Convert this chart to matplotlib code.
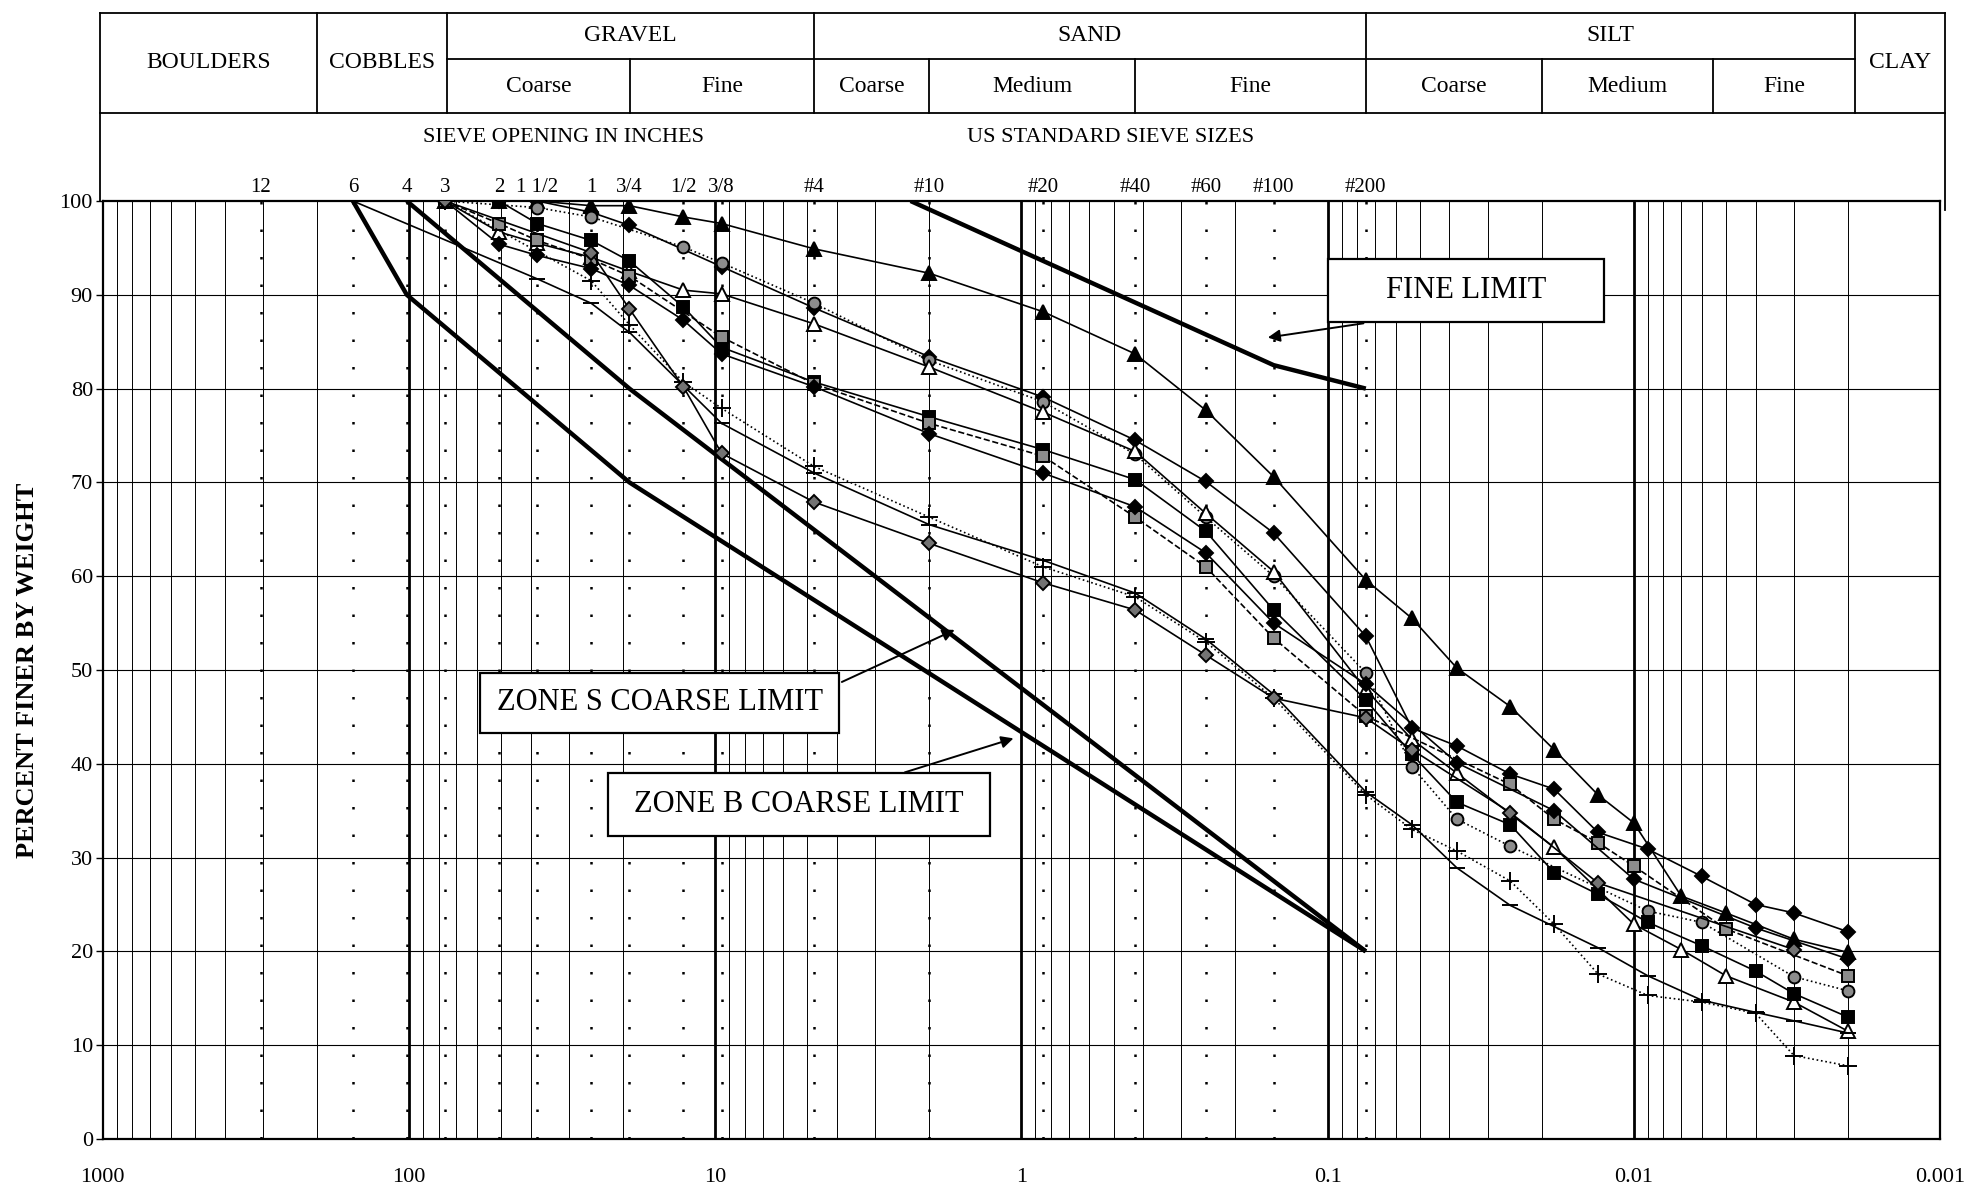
import numpy as np
import matplotlib.pyplot as plt

plt.rcParams['font.family'] = ['Liberation Serif', 'DejaVu Serif']

# sieve labels along the top (size in mm)
sieve_mm = [304.8, 152.4, 101.6, 76.2, 50.8, 38.1, 25.4, 19.05, 12.7, 9.525,
            4.75, 2.0, 0.85, 0.425, 0.25, 0.15, 0.075]
sieve_lbl = ['12', '6', '4', '3', '2', '1 1/2', '1', '3/4', '1/2', '3/8',
             '#4', '#10', '#20', '#40', '#60', '#100', '#200']

# limit curves
fine_d = [2.3, 0.15, 0.075]
fine_p = [100, 82.5, 80]
zs_d = [101.6, 19.05, 0.075]
zs_p = [100, 80, 20]
zb_d = [152.4, 101.6, 19.05, 0.075]
zb_p = [100, 90, 70, 20]

# test samples (grain size mm, percent finer)
s1_d = [76.2, 50.8, 38.1, 25.4, 19.05, 12.7, 9.525, 4.75, 2.0, 0.85, 0.425, 0.25, 0.15, 0.075,
        0.053, 0.0378, 0.0253, 0.0182, 0.0131, 0.01, 0.007, 0.005, 0.003, 0.002]
s1_p = [100, 100, 100, 99.5, 99.5, 98.3, 97.6, 94.9, 92.3, 88.2, 83.7, 77.7, 70.6, 59.6,
        55.5, 50.2, 46.1, 41.5, 36.7, 33.7, 25.9, 24.1, 21.3, 19.9]

s2_d = [76.2, 50.8, 38.1, 25.4, 19.05, 9.525, 4.75, 2.0, 0.85, 0.425, 0.25, 0.15, 0.075,
        0.053, 0.0378, 0.0253, 0.0182, 0.0131, 0.009, 0.006, 0.004, 0.003, 0.002]
s2_p = [100, 100, 100, 98.8, 97.4, 93.0, 88.6, 83.4, 79.1, 74.5, 70.1, 64.6, 53.6,
        43.8, 41.9, 38.9, 37.3, 32.7, 30.9, 28.0, 25.0, 24.1, 22.1]

s3_d = [76.2, 38.1, 25.4, 12.7, 9.525, 4.75, 2.0, 0.85, 0.425, 0.25, 0.15, 0.075,
        0.053, 0.0378, 0.0253, 0.009, 0.006, 0.003, 0.002]
s3_p = [100, 99.3, 98.3, 95.1, 93.4, 89.1, 83.0, 78.6, 73.0, 66.3, 60.0, 49.7,
        39.7, 34.1, 31.2, 24.3, 23.1, 17.3, 15.8]

s4_d = [76.2, 50.8, 38.1, 25.4, 19.05, 12.7, 9.525, 4.75, 2.0, 0.85, 0.425, 0.25, 0.15, 0.075,
        0.053, 0.0378, 0.0182, 0.01, 0.007, 0.005, 0.003, 0.002]
s4_p = [100, 96.7, 95.5, 94.0, 92.5, 90.5, 90.1, 86.9, 82.3, 77.5, 73.3, 66.7, 60.5, 47.9,
        42.6, 39.0, 31.1, 22.9, 20.2, 17.4, 14.6, 11.5]

s5_d = [76.2, 50.8, 38.1, 25.4, 19.05, 12.7, 9.525, 4.75, 2.0, 0.85, 0.425, 0.25, 0.15, 0.075,
        0.053, 0.0378, 0.0253, 0.0182, 0.0131, 0.009, 0.006, 0.004, 0.003, 0.002]
s5_p = [100, 100, 97.6, 95.8, 93.6, 88.7, 84.4, 80.7, 77.0, 73.5, 70.3, 64.8, 56.4, 46.8,
        41.0, 35.9, 33.5, 28.4, 26.1, 23.1, 20.6, 17.9, 15.5, 13.0]

s6_d = [76.2, 50.8, 38.1, 25.4, 19.05, 9.525, 4.75, 2.0, 0.85, 0.425, 0.25, 0.15, 0.075,
        0.0253, 0.0182, 0.0131, 0.01, 0.005, 0.002]
s6_p = [100, 97.6, 95.8, 93.8, 92.0, 85.5, 80.5, 76.3, 72.8, 66.3, 61.0, 53.4, 45.1,
        37.8, 34.1, 31.6, 29.1, 22.4, 17.4]

s7_d = [76.2, 50.8, 38.1, 25.4, 19.05, 12.7, 9.525, 4.75, 2.0, 0.85, 0.425, 0.25, 0.15, 0.075,
        0.0378, 0.0182, 0.01, 0.004, 0.002]
s7_p = [100, 95.4, 94.2, 92.8, 91.0, 87.3, 83.7, 80.2, 75.2, 71.0, 67.4, 62.5, 55.0, 48.5,
        40.1, 35.0, 27.7, 22.5, 19.2]

s8_d = [76.2, 25.4, 19.05, 12.7, 9.525, 4.75, 2.0, 0.85, 0.425, 0.25, 0.15, 0.075,
        0.053, 0.0378, 0.0253, 0.0182, 0.0131, 0.009, 0.006, 0.004, 0.003, 0.002]
s8_p = [100, 91.5, 86.8, 80.7, 77.9, 71.7, 66.3, 61.0, 57.8, 53.0, 47.0, 36.7,
        33.0, 30.7, 27.5, 22.9, 17.6, 15.3, 14.6, 13.4, 8.9, 7.8]

s9_d = [152.4, 38.1, 25.4, 19.05, 9.525, 4.75, 2.0, 0.85, 0.425, 0.25, 0.15, 0.075,
        0.053, 0.0378, 0.0253, 0.0131, 0.009, 0.006, 0.004, 0.003, 0.002]
s9_p = [100, 91.7, 89.1, 86.0, 76.3, 71.0, 65.5, 61.7, 58.2, 53.3, 47.4, 37.0,
        33.5, 28.9, 24.9, 20.4, 17.4, 14.8, 13.5, 12.6, 11.3]

s10_d = [76.2, 25.4, 19.05, 12.7, 9.525, 4.75, 2.0, 0.85, 0.425, 0.25, 0.15, 0.075,
         0.053, 0.0253, 0.0131, 0.003]
s10_p = [100, 94.5, 88.5, 80.2, 73.1, 67.9, 63.5, 59.3, 56.4, 51.6, 47.0, 44.9,
         41.5, 34.8, 27.3, 20.2]

# header classification
hdr_edges = [1020, 200, 75, 4.75, 0.075, 0.0019, 0.00096]
hdr_main = ['BOULDERS', 'COBBLES', 'GRAVEL', 'SAND', 'SILT', 'CLAY']
hdr_sub_edges = [[75, 19, 4.75], [4.75, 2.0, 0.425, 0.075], [0.075, 0.02, 0.0055, 0.0019]]
hdr_sub = [['Coarse', 'Fine'], ['Coarse', 'Medium', 'Fine'], ['Coarse', 'Medium', 'Fine']]

W, H = 1965, 1192
fig = plt.figure(figsize=(W / 100, H / 100), dpi=100)
ax_l, ax_r, ax_t, ax_b = 102.7, 1940, 201, 1139
ax = fig.add_axes([ax_l / W, 1 - ax_b / H, (ax_r - ax_l) / W, (ax_b - ax_t) / H])
ax.set_xscale('log')
ax.set_xlim(1000, 0.001)
ax.set_ylim(0, 100)

# grid
for n in range(-3, 3):
    for k in range(2, 10):
        ax.axvline(k * 10.0 ** n, color='k', lw=0.7, zorder=1)
for n in [-2, -1, 0, 1, 2]:
    ax.axvline(10.0 ** n, color='k', lw=2.0, zorder=1)
for y in range(10, 100, 10):
    ax.axhline(y, color='k', lw=0.8, zorder=1)
for d in sieve_mm:
    ax.axvline(d, color='k', lw=1.8, ls=(0, (1, 10)), zorder=1)

# limit lines
for d, p in [(fine_d, fine_p), (zs_d, zs_p), (zb_d, zb_p)]:
    ax.plot(d, p, color='k', lw=3.2, zorder=2, solid_capstyle='butt')

series = [
    (s1_d, s1_p, '^', 'k', '-', 10),
    (s2_d, s2_p, 'D', 'k', '-', 7.5),
    (s3_d, s3_p, 'o', '0.55', ':', 8.5),
    (s4_d, s4_p, '^', 'white', '-', 10),
    (s5_d, s5_p, 's', 'k', '-', 8.5),
    (s6_d, s6_p, 's', '0.55', '--', 8.5),
    (s7_d, s7_p, 'D', 'k', '-', 7.5),
    (s8_d, s8_p, '+', 'k', ':', 13),
    (s9_d, s9_p, '_', 'k', '-', 11),
    (s10_d, s10_p, 'D', '0.45', '-', 7.5),
]
for d, p, m, fc, ls, ms in series:
    ax.plot(d, p, color='k', lw=1.2, ls=ls, marker=m, mfc=fc, mec='k', mew=1.4,
            ms=ms, zorder=3)

# ticks
ax.set_xticks([1000, 100, 10, 1, 0.1, 0.01, 0.001])
ax.set_xticklabels(['1000', '100', '10', '1', '0.1', '0.01', '0.001'])
ax.xaxis.set_minor_locator(plt.NullLocator())
ax.set_yticks(range(0, 101, 10))
ax.tick_params(axis='x', length=0, pad=21, labelsize=16)
ax.tick_params(axis='y', length=5, width=1, pad=2, labelsize=16)
for s in ax.spines.values():
    s.set_linewidth(1.6)

fig.text(28 / W, 1 - (ax_t + ax_b) / 2 / H, 'PERCENT FINER BY WEIGHT', rotation=90,
         ha='center', va='center', fontsize=19, fontweight='bold')

# annotation boxes
boxes = [
    ('FINE LIMIT', (0.0994, 0.0125), (87.1, 93.8), (0.0748, 87.0), (0.16, 85.4)),
    ('ZONE S COARSE LIMIT', (58.6, 3.93), (43.3, 49.7), (3.93, 48.6), (1.62, 54.4)),
    ('ZONE B COARSE LIMIT', (22.4, 1.265), (32.3, 39.0), (2.45, 39.0), (1.04, 42.8)),
]
for txt, (x0, x1), (y0, y1), start, tip in boxes:
    ax.fill([x0, x1, x1, x0], [y0, y0, y1, y1], facecolor='white', edgecolor='k',
            lw=1.6, zorder=5)
    ax.text(np.sqrt(x0 * x1), (y0 + y1) / 2, txt, ha='center', va='center',
            fontsize=22, zorder=6)
    ax.annotate('', xy=tip, xytext=start, zorder=6,
                arrowprops=dict(arrowstyle='-|>', lw=1.4, color='k',
                                mutation_scale=18))

# header
hx = fig.add_axes([ax_l / W, 1 - ax_t / H, (ax_r - ax_l) / W, ax_t / H])
hx.set_xscale('log')
hx.set_xlim(1000, 0.001)
hx.set_ylim(ax_t, 0)
hx.axis('off')
top, mid, bot = 12.5, 59, 113
lk = dict(color='k', lw=1.3, clip_on=False)
hx.plot([hdr_edges[0], hdr_edges[-1]], [top, top], **lk)
hx.plot([hdr_edges[0], hdr_edges[-1]], [bot, bot], **lk)
hx.plot([75, 0.0019], [mid, mid], **lk)
hx.plot([hdr_edges[0]] * 2, [top, ax_t], **lk)
hx.plot([hdr_edges[-1]] * 2, [top, ax_t + 9], **lk)
for e in hdr_edges[1:-1]:
    hx.plot([e, e], [top, bot], **lk)
for i, name in enumerate(hdr_main):
    xc = np.sqrt(hdr_edges[i] * hdr_edges[i + 1])
    if name in ('GRAVEL', 'SAND', 'SILT'):
        hx.text(xc, (top + mid) / 2, name, ha='center', va='center', fontsize=17)
    else:
        hx.text(xc, (top + bot) / 2, name, ha='center', va='center', fontsize=17)
for edges, subs in zip(hdr_sub_edges, hdr_sub):
    for e in edges[1:-1]:
        hx.plot([e, e], [mid, bot], **lk)
    for j, sname in enumerate(subs):
        xc = np.sqrt(edges[j] * edges[j + 1])
        hx.text(xc, (mid + bot) / 2, sname, ha='center', va='center', fontsize=17)

hx.text(31.2, 138, 'SIEVE OPENING IN INCHES', ha='center', va='center', fontsize=16)
hx.text(0.513, 138, 'US STANDARD SIEVE SIZES', ha='center', va='center', fontsize=16)
for d, lbl in zip(sieve_mm, sieve_lbl):
    hx.text(d, 197, lbl, ha='center', va='bottom', fontsize=15)

fig.savefig('out.png', dpi=100, facecolor='white')
